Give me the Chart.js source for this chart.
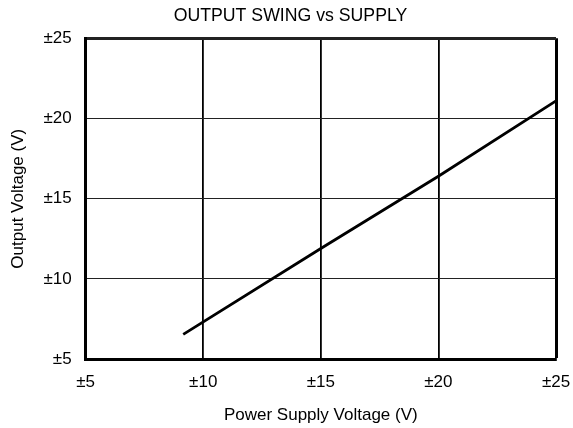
<!DOCTYPE html>
<html>
<head>
<meta charset="utf-8">
<script src="https://cdn.jsdelivr.net/npm/chart.js@4"></script>
<style>
  html, body { margin: 0; padding: 0; background: #fff; }
  canvas { display: block; }
</style>
</head>
<body>
<canvas id="myChart" width="573" height="428"></canvas>
<script>
// values
const supplyVolts = [9.15, 15, 20, 25];
const outputVolts = [6.55, 11.9, 16.4, 21.1];
const xTicks = [5, 10, 15, 20, 25];
const yTicks = [5, 10, 15, 20, 25];

const points = supplyVolts.map((v, i) => ({ x: v, y: outputVolts[i] }));
const font = { family: "Liberation Sans", size: 17, weight: "normal" };

const ctx = document.getElementById("myChart").getContext("2d");
const myChart = new Chart(ctx, {
  type: "scatter",
  data: {
    datasets: [
      {
        data: points,
        showLine: true,
        borderColor: "#000",
        borderWidth: 2.8,
        pointRadius: 0,
        fill: false,
      },
    ],
  },
  options: {
    responsive: false,
    animation: false,
    layout: { padding: { top: 5, right: 0, left: 8, bottom: 2 } },
    plugins: {
      legend: { display: false },
      tooltip: { enabled: false },
      title: {
        display: true,
        text: "OUTPUT SWING vs SUPPLY",
        color: "#000",
        font: { family: "Liberation Sans", size: 17.7, weight: "normal" },
        padding: { top: 0, bottom: 12 },
      },
    },
    scales: {
      x: {
        type: "linear",
        min: xTicks[0],
        max: xTicks[xTicks.length - 1],
        afterBuildTicks: (axis) => { axis.ticks = xTicks.map((v) => ({ value: v })); },
        // keep room for the last tick label only, not label + tick padding
        afterFit: (axis) => { axis.paddingRight = 17; },
        ticks: {
          callback: (v) => "±" + v,
          color: "#000",
          font: font,
          padding: 13,
          maxRotation: 0,
        },
        grid: {
          color: "#000",
          lineWidth: (c) => (c.index === xTicks.length - 1 ? 3 : 1.8),
          drawTicks: false,
        },
        border: { display: true, color: "#000", width: 3 },
        title: {
          display: true,
          text: "Power Supply Voltage (V)",
          color: "#000",
          font: font,
          padding: { top: 0, bottom: 0 },
        },
      },
      y: {
        type: "linear",
        min: yTicks[0],
        max: yTicks[yTicks.length - 1],
        afterBuildTicks: (axis) => { axis.ticks = yTicks.map((v) => ({ value: v })); },
        ticks: {
          callback: (v) => "±" + v,
          color: "#000",
          font: font,
          padding: 14,
        },
        grid: {
          color: "#222",
          lineWidth: (c) => (c.index === yTicks.length - 1 ? 3 : 1),
          drawTicks: false,
        },
        border: { display: true, color: "#000", width: 3 },
        title: {
          display: true,
          text: "Output Voltage (V)",
          color: "#000",
          font: font,
          padding: { top: 0, bottom: 1 },
        },
      },
    },
  },
});
</script>
</body>
</html>
